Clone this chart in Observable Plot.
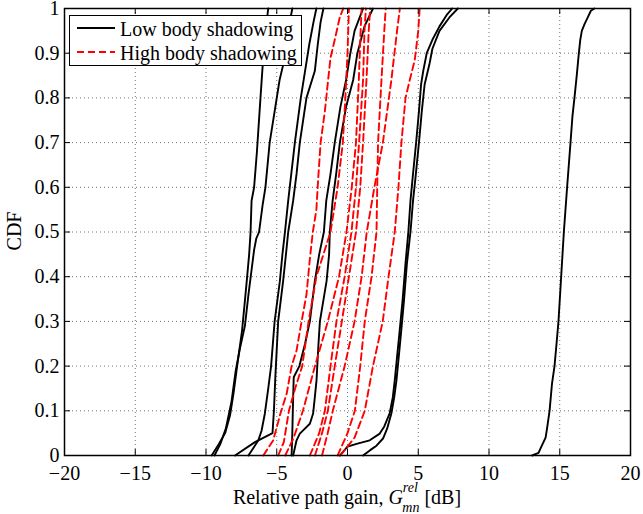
<!DOCTYPE html>
<html><head><meta charset="utf-8">
<script src="https://cdn.jsdelivr.net/npm/d3@7"></script>
<script src="https://cdn.jsdelivr.net/npm/@observablehq/plot@0.6"></script>
<style>
body{margin:0;background:#fff;}
#wrap{position:relative;width:643px;height:514px;font-family:"Liberation Serif","Times New Roman",serif;}
#legbox{position:absolute;left:69px;top:15px;width:233px;height:51px;background:#fff;border:1.5px solid #000;box-sizing:border-box;}
.legtxt{position:absolute;left:120px;font-size:20px;line-height:20px;white-space:nowrap;color:#000;}
.legsw{position:absolute;left:76px;}
</style></head><body><div id="wrap"></div>
<script>
// axis ticks
const xTicks = [-20,-15,-10,-5,0,5,10,15,20];
const yTicks = [0,0.1,0.2,0.3,0.4,0.5,0.6,0.7,0.8,0.9,1];
const seriesNames = ["Low body shadowing","High body shadowing"];

// Low body shadowing curves: [relative path gain dB, CDF]
const low1 = [[-9.6,0],[-9.1,0.025],[-8.65,0.05],[-8.3,0.09],[-8.05,0.14],[-7.8,0.2],[-7.45,0.28],[-7.15,0.38],[-6.95,0.45],[-6.85,0.5],[-6.78,0.57],[-6.6,0.6],[-6.4,0.68],[-6.15,0.8],[-6.0,0.87],[-5.8,0.95],[-5.6,1]];
const low2 = [[-9.4,0],[-9.0,0.025],[-8.6,0.06],[-8.2,0.12],[-7.9,0.19],[-7.6,0.24],[-7.25,0.29],[-7.0,0.36],[-6.8,0.41],[-6.6,0.46],[-6.45,0.485],[-6.25,0.5],[-6.0,0.56],[-5.8,0.6],[-5.5,0.7],[-5.15,0.77],[-4.8,0.84],[-4.5,0.88],[-4.2,0.95],[-3.9,1]];
const low3 = [[-7.0,0],[-6.3,0.034],[-6.07,0.056],[-5.84,0.094],[-5.6,0.15],[-5.4,0.2],[-5.15,0.3],[-4.78,0.39],[-4.6,0.45],[-4.42,0.5],[-4.19,0.57],[-3.72,0.7],[-3.3,0.8],[-3.0,0.86],[-2.7,0.92],[-2.4,0.97],[-2.2,1]];
const low4 = [[-7.95,0],[-6.54,0.03],[-5.3,0.05],[-5.2,0.1],[-5.1,0.175],[-4.9,0.3],[-4.55,0.39],[-4.35,0.45],[-4.19,0.5],[-3.84,0.57],[-3.6,0.63],[-3.37,0.7],[-2.9,0.8],[-2.31,0.86],[-2.1,0.92],[-1.9,0.97],[-1.7,1]];
const low5 = [[-3.95,0],[-3.9,0.05],[-3.85,0.12],[-3.8,0.175],[-3.4,0.2],[-3.0,0.25],[-2.66,0.3],[-2.31,0.39],[-2.0,0.45],[-1.67,0.5],[-1.5,0.57],[-1.2,0.63],[-0.9,0.7],[-0.5,0.78],[-0.1,0.84],[0.2,0.9],[0.5,0.95],[1.1,1]];
const low6 = [[-3.84,0],[-3.6,0.034],[-3.37,0.049],[-2.66,0.071],[-2.43,0.094],[-2.31,0.13],[-2.19,0.168],[-2.05,0.25],[-1.95,0.3],[-1.48,0.39],[-1.3,0.45],[-1.25,0.5],[-1.05,0.57],[-0.8,0.63],[-0.54,0.7],[-0.1,0.78],[0.4,0.84],[0.7,0.9],[1.2,0.96],[1.8,1]];
const low7 = [[-0.54,0],[0.0,0.02],[0.64,0.026],[1.57,0.034],[2.28,0.049],[2.6,0.065],[2.98,0.094],[3.2,0.13],[3.34,0.168],[3.5,0.22],[3.69,0.28],[3.9,0.35],[4.1,0.43],[4.3,0.5],[4.45,0.57],[4.6,0.62],[4.85,0.7],[5.05,0.77],[5.2,0.83],[5.35,0.86],[5.6,0.9],[6.0,0.93],[6.5,0.96],[7.0,0.985],[7.4,1]];
const low8 = [[1.1,0],[1.6,0.012],[2.05,0.022],[2.51,0.038],[2.8,0.06],[3.1,0.094],[3.3,0.13],[3.46,0.168],[3.62,0.22],[3.8,0.28],[4.0,0.35],[4.2,0.43],[4.45,0.5],[4.63,0.57],[4.8,0.62],[5.05,0.7],[5.25,0.77],[5.45,0.83],[5.8,0.877],[6.0,0.91],[6.5,0.95],[7.2,0.98],[7.8,1]];
const low9 = [[13.05,0],[13.5,0.006],[13.7,0.02],[14.0,0.04],[14.1,0.06],[14.28,0.1],[14.45,0.16],[14.63,0.2],[14.8,0.26],[14.91,0.3],[15.1,0.4],[15.29,0.5],[15.52,0.6],[15.76,0.7],[15.9,0.76],[16.04,0.8],[16.2,0.85],[16.35,0.9],[16.45,0.93],[16.56,0.95],[16.75,0.965],[16.98,0.98],[17.2,0.995],[17.45,1]];

// High body shadowing curves
const high1 = [[-5.95,0],[-5.25,0.034],[-5.0,0.063],[-4.75,0.093],[-4.3,0.138],[-3.95,0.2],[-3.6,0.235],[-3.3,0.29],[-2.9,0.36],[-2.66,0.44],[-2.45,0.5],[-2.2,0.55],[-2.07,0.62],[-1.9,0.7],[-1.6,0.77],[-1.37,0.84],[-1.2,0.89],[-0.9,0.93],[-0.55,0.98],[-0.3,1]];
const high2 = [[-4.9,0],[-4.5,0.03],[-4.14,0.1],[-3.7,0.15],[-3.2,0.2],[-2.75,0.3],[-2.2,0.4],[-1.2,0.5],[-0.7,0.6],[-0.33,0.7],[-0.15,0.8],[0.0,0.9],[0.1,1]];
const high3 = [[-4.4,0],[-3.8,0.04],[-3.15,0.1],[-2.3,0.2],[-1.39,0.3],[-0.6,0.4],[-0.07,0.5],[0.3,0.6],[0.6,0.7],[0.8,0.84],[0.9,0.93],[1.0,1]];
const high4 = [[-2.66,0],[-2.0,0.05],[-1.6,0.1],[-1.2,0.2],[-0.78,0.3],[-0.2,0.4],[0.28,0.5],[0.6,0.6],[0.82,0.7],[1.1,0.84],[1.2,0.95],[1.3,1]];
const high5 = [[-2.3,0],[-1.8,0.05],[-1.39,0.1],[-0.9,0.2],[-0.4,0.3],[0.1,0.4],[0.6,0.5],[0.9,0.6],[1.1,0.7],[1.34,0.84],[1.5,0.95],[1.6,1]];
const high6 = [[-1.8,0],[-1.4,0.05],[-1.04,0.1],[-0.2,0.2],[0.5,0.3],[1.0,0.4],[1.36,0.5],[1.9,0.6],[2.5,0.7],[3.1,0.84],[3.5,0.95],[3.7,1]];
const high7 = [[-0.7,0],[0.0,0.05],[0.52,0.1],[0.9,0.2],[1.22,0.3],[1.7,0.4],[2.05,0.5],[2.1,0.6],[2.16,0.7],[2.4,0.84],[2.6,0.95],[2.7,1]];
const high8 = [[-0.5,0],[0.5,0.04],[1.22,0.1],[1.8,0.2],[2.49,0.3],[2.9,0.4],[3.34,0.5],[3.6,0.6],[3.81,0.7],[4.1,0.8],[4.4,0.84],[4.75,0.884],[5.0,0.95],[5.1,1]];

const lowCurves = [low1,low2,low3,low4,low5,low6,low7,low8,low9];
const highCurves = [high1,high2,high3,high4,high5,high6,high7,high8];
const toRows = (curves, tag) => curves.flatMap((c, i) => c.map(([x, y]) => ({id: tag + i, x, y})));
const lowData = toRows(lowCurves, "L");
const highData = toRows(highCurves, "H");

const W = 643, H = 514, mL = 64, mR = 13, mT = 8, mB = 59;
const pw = W - mL - mR, ph = H - mT - mB, tk = 6;
const fmtX = d => d < 0 ? "\u2212" + (-d) : String(d);
const fmtY = d => (d === 0 || d === 1) ? String(d) : d.toFixed(1);
const gridStyle = {stroke: "#000", strokeOpacity: 0.55, strokeDasharray: "1,3", strokeWidth: 1};

const chart = Plot.plot({
  width: W, height: H,
  marginLeft: mL, marginRight: mR, marginTop: mT, marginBottom: mB,
  style: {fontFamily: "'Liberation Serif','Times New Roman',serif", fontSize: "20px", background: "#fff", color: "#000", overflow: "visible"},
  x: {domain: [-20, 20]},
  y: {domain: [0, 1]},
  marks: [
    Plot.gridX(xTicks, gridStyle),
    Plot.gridY(yTicks, gridStyle),
    Plot.line(lowData, {x: "x", y: "y", z: "id", stroke: "#000", strokeWidth: 1.9}),
    Plot.line(highData, {x: "x", y: "y", z: "id", stroke: "#ff0000", strokeWidth: 1.9, strokeDasharray: "7,4"}),
    Plot.ruleX(xTicks, {insetTop: ph - tk, stroke: "#000"}),
    Plot.ruleX(xTicks, {insetBottom: ph - tk, stroke: "#000"}),
    Plot.ruleY(yTicks, {insetRight: pw - tk, stroke: "#000"}),
    Plot.ruleY(yTicks, {insetLeft: pw - tk, stroke: "#000"}),
    Plot.frame({stroke: "#000", strokeWidth: 1.5}),
    Plot.axisX(xTicks, {tickSize: 0, tickPadding: 10, tickFormat: fmtX, label: null}),
    Plot.axisY(yTicks, {tickSize: 0, tickPadding: 5, tickFormat: fmtY, label: null})
  ]
});

const svg = d3.select(chart);
const xl = svg.append("text").attr("x", 347).attr("y", 504).attr("text-anchor", "middle")
  .attr("font-size", 20).attr("fill", "#000");
xl.append("tspan").text("Relative path gain, ");
xl.append("tspan").attr("font-style", "italic").text("G");
xl.append("tspan").attr("font-style", "italic").attr("font-size", 14).attr("dy", -12).text("rel");
xl.append("tspan").attr("font-style", "italic").attr("font-size", 14).attr("dx", -15.6).attr("dy", 20).text("mn");
xl.append("tspan").attr("dy", -8).text(" [dB]");
svg.append("text").attr("transform", "translate(21,231) rotate(-90)").attr("text-anchor", "middle")
  .attr("font-size", 20).attr("fill", "#000").text("CDF");

const wrap = document.getElementById("wrap");
wrap.appendChild(chart);
wrap.insertAdjacentHTML("beforeend",
  `<div id="legbox"></div>
   <svg class="legsw" style="top:24px" width="40" height="8"><line x1="1" x2="39" y1="4" y2="4" stroke="#000" stroke-width="1.9"/></svg>
   <svg class="legsw" style="top:47.5px" width="40" height="8"><line x1="1" x2="39" y1="4" y2="4" stroke="#ff0000" stroke-width="1.9" stroke-dasharray="7,4"/></svg>
   <div class="legtxt" style="top:19px">${seriesNames[0]}</div>
   <div class="legtxt" style="top:42.5px">${seriesNames[1]}</div>`);
</script></body></html>
